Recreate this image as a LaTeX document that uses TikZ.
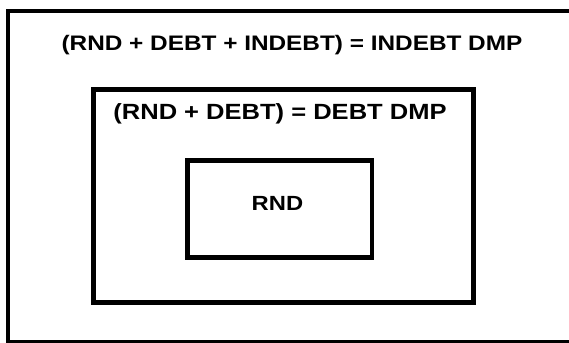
\documentclass[tikz,border=0pt]{standalone}
\usepackage{fontspec}
\setmainfont{Liberation Sans}
\newfontfamily\dmpfont[FakeStretch=1.16]{Liberation Sans Bold}
\usetikzlibrary{positioning}

\tikzset{
  dmplabel/.style={inner sep=0pt, anchor=base, font=\dmpfont\fontsize{21pt}{21pt}\selectfont},
  dmpbox/.style={draw, line width=#1, line join=miter}
}

\begin{document}
\begin{tikzpicture}[x=1pt, y=-1pt]
  \useasboundingbox (0,0) rectangle (569,342);
  \clip (0,0) rectangle (569,342);
  % outer box, cut off at the right and bottom
  \draw[dmpbox=4pt] (8,11) rectangle (580,342);
  \node[dmplabel] (indebt) at (292,50.5) {(RND + DEBT + INDEBT) = INDEBT DMP};
  % middle box
  \draw[dmpbox=5pt] (93.5,89.5) rectangle (473.5,302.5);
  \node[dmplabel, font=\dmpfont\fontsize{22pt}{22pt}\selectfont] (debt) at (280,119.5) {(RND + DEBT) = DEBT DMP};
  % inner box
  \draw[dmpbox=4.5pt] (187.5,160.5) rectangle (372,257.5);
  \node[dmplabel, font=\dmpfont\fontsize{20.5pt}{20.5pt}\selectfont] (rnd) at (277.5,210) {RND};
\end{tikzpicture}
\end{document}
